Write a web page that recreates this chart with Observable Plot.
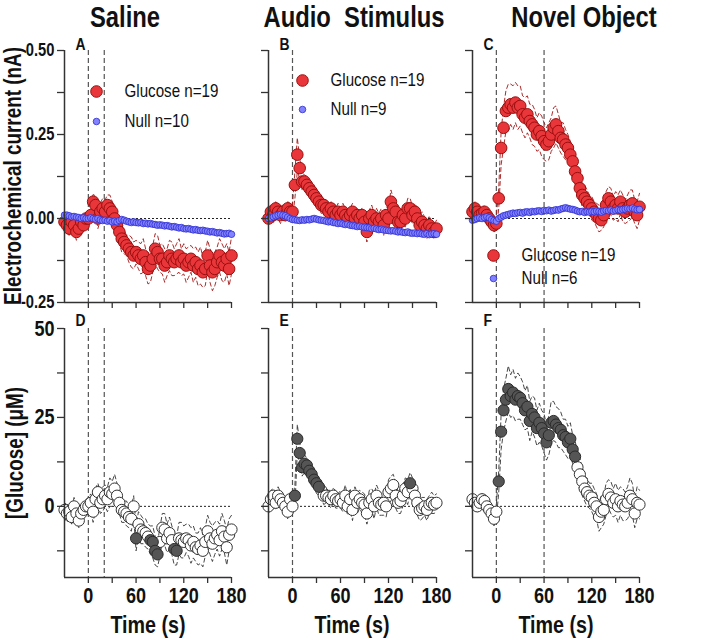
<!DOCTYPE html>
<html><head><meta charset="utf-8">
<script src="https://cdn.jsdelivr.net/npm/d3@7"></script>
<script src="https://cdn.jsdelivr.net/npm/@observablehq/plot@0.6"></script>
<style>
body{margin:0;background:#fff;}
#chart{position:relative;width:708px;height:641px;overflow:hidden;font-family:"Liberation Sans",Arial,sans-serif;color:#111;}
.lbl{position:absolute;font-weight:bold;white-space:nowrap;line-height:1;}
</style></head><body><div id="chart"></div>
<script>
// ---------- data ----------
const time = [-30,-27,-24,-21,-18,-15,-12,-9,-6,-3,0,3,6,9,12,15,18,21,24,27,30,33,36,39,42,45,48,51,54,57,60,63,66,69,72,75,78,81,84,87,90,93,96,99,102,105,108,111,114,117,120,123,126,129,132,135,138,141,144,147,150,153,156,159,162,165,168,171,174,177,180];

// Electrochemical current (nA)
const glucoseSaline = [-0.01,-0.02,-0.03,-0.01,-0.02,-0.04,-0.03,-0.01,-0.02,0.00,0.00,
 0.01,0.05,0.04,0.00,0.02,0.03,0.02,0.04,0.03,0.02,
 0.00,-0.02,-0.04,-0.06,-0.07,-0.08,-0.09,-0.10,-0.11,-0.10,
 -0.11,-0.12,-0.11,-0.13,-0.15,-0.14,-0.12,-0.09,-0.10,-0.12,
 -0.12,-0.14,-0.13,-0.11,-0.12,-0.13,-0.12,-0.11,-0.13,-0.12,
 -0.14,-0.13,-0.12,-0.14,-0.13,-0.15,-0.14,-0.16,-0.15,-0.11,
 -0.14,-0.16,-0.15,-0.13,-0.11,-0.13,-0.14,-0.12,-0.15,-0.11];
const semSaline = [0.02,0.025,0.02,0.015,0.02,0.025,0.02,0.02,0.015,0.02,0.02,
 0.02,0.025,0.02,0.03,0.025,0.03,0.035,0.03,0.04,0.03,
 0.035,0.03,0.035,0.04,0.035,0.03,0.04,0.045,0.04,0.035,
 0.04,0.045,0.05,0.04,0.045,0.05,0.04,0.045,0.05,0.04,
 0.045,0.05,0.04,0.045,0.05,0.04,0.045,0.05,0.04,0.045,
 0.05,0.045,0.04,0.05,0.045,0.05,0.055,0.045,0.05,0.045,
 0.05,0.055,0.05,0.045,0.05,0.055,0.05,0.045,0.05,0.055];
const nullSaline = [0.01,0.01,0.008,0.005,0.006,0.004,0.003,0.0,0.002,0.0,0.0,
 0.002,0.0,-0.002,0.0,-0.004,-0.006,-0.005,-0.008,-0.006,-0.01,
 -0.008,-0.01,-0.006,-0.003,-0.005,-0.008,-0.01,-0.012,-0.01,-0.012,
 -0.013,-0.012,-0.015,-0.014,-0.016,-0.015,-0.017,-0.018,-0.02,-0.019,
 -0.02,-0.022,-0.021,-0.023,-0.025,-0.024,-0.026,-0.028,-0.027,-0.03,
 -0.031,-0.03,-0.032,-0.034,-0.033,-0.035,-0.036,-0.035,-0.037,-0.038,
 -0.04,-0.039,-0.041,-0.043,-0.042,-0.044,-0.046,-0.045,-0.044,-0.047];

const glucoseAudio = [0.00,0.02,0.01,0.03,0.02,0.01,0.02,0.01,0.03,0.02,0.02,
 0.10,0.19,0.15,0.11,0.11,0.10,0.09,0.08,0.07,0.06,
 0.05,0.04,0.04,0.03,0.02,0.03,0.02,0.01,0.02,0.01,
 0.02,0.01,0.00,0.01,0.02,0.00,0.01,0.00,0.01,-0.01,
 -0.04,0.00,0.01,-0.01,0.00,-0.01,0.00,-0.02,0.01,0.00,
 0.05,0.03,0.02,-0.01,-0.01,0.01,0.00,0.03,0.03,0.01,
 0.02,0.00,-0.02,-0.01,-0.02,-0.03,-0.02,-0.03,-0.04,-0.03];
const semAudio = [0.02,0.02,0.025,0.02,0.02,0.025,0.02,0.02,0.02,0.025,0.02,
 0.04,0.05,0.03,0.025,0.02,0.025,0.02,0.025,0.02,0.02,
 0.02,0.025,0.02,0.025,0.02,0.02,0.025,0.02,0.025,0.02,
 0.025,0.02,0.025,0.02,0.025,0.03,0.02,0.025,0.02,0.025,
 0.03,0.025,0.03,0.025,0.03,0.025,0.03,0.03,0.025,0.03,
 0.035,0.03,0.025,0.03,0.025,0.03,0.025,0.03,0.03,0.025,
 0.025,0.03,0.025,0.03,0.025,0.03,0.025,0.025,0.02,0.025];
const nullAudio = [0.0,0.002,0.005,0.008,0.01,0.012,0.01,0.008,0.004,0.0,-0.003,
 -0.004,-0.005,-0.006,-0.004,-0.005,-0.003,-0.004,-0.002,0.0,-0.002,
 -0.004,-0.005,-0.006,-0.008,-0.01,-0.009,-0.012,-0.013,-0.015,-0.014,
 -0.016,-0.018,-0.017,-0.02,-0.021,-0.022,-0.024,-0.023,-0.025,-0.026,
 -0.027,-0.028,-0.03,-0.029,-0.031,-0.033,-0.032,-0.034,-0.035,-0.036,
 -0.037,-0.036,-0.038,-0.04,-0.039,-0.041,-0.042,-0.04,-0.043,-0.044,
 -0.043,-0.045,-0.044,-0.046,-0.047,-0.045,-0.048,-0.046,-0.045,-0.047];

const glucoseNovel = [0.02,0.03,0.02,0.01,0.015,0.02,0.01,0.0,-0.01,-0.02,-0.015,
 0.06,0.21,0.27,0.32,0.33,0.34,0.33,0.345,0.33,0.335,
 0.31,0.30,0.31,0.29,0.28,0.27,0.25,0.26,0.245,0.23,
 0.22,0.23,0.25,0.27,0.28,0.26,0.24,0.235,0.22,0.21,
 0.19,0.17,0.14,0.12,0.09,0.07,0.06,0.05,0.04,0.03,
 0.02,0.01,0.0,-0.005,0.01,0.04,0.06,0.05,0.03,0.04,
 0.03,0.05,0.03,0.02,0.03,0.04,0.045,0.02,0.01,0.035];
const semNovel = [0.02,0.02,0.015,0.02,0.015,0.02,0.015,0.02,0.015,0.02,0.02,
 0.03,0.05,0.06,0.06,0.07,0.06,0.065,0.06,0.065,0.06,
 0.055,0.06,0.055,0.05,0.06,0.055,0.05,0.055,0.06,0.055,
 0.05,0.055,0.05,0.06,0.055,0.05,0.045,0.05,0.045,0.04,
 0.04,0.035,0.04,0.035,0.03,0.035,0.04,0.035,0.03,0.035,
 0.03,0.035,0.04,0.03,0.035,0.04,0.035,0.04,0.035,0.04,
 0.04,0.035,0.04,0.035,0.04,0.045,0.04,0.035,0.04,0.04];
const nullNovel = [-0.005,-0.003,0.0,0.002,0.0,0.003,0.005,0.002,-0.003,-0.006,-0.008,
 0.0,0.004,0.008,0.01,0.012,0.014,0.016,0.015,0.017,0.018,
 0.016,0.019,0.02,0.018,0.021,0.02,0.022,0.023,0.021,0.024,
 0.023,0.025,0.022,0.024,0.026,0.025,0.028,0.03,0.032,0.03,
 0.028,0.027,0.025,0.022,0.02,0.021,0.018,0.02,0.019,0.021,
 0.02,0.022,0.021,0.019,0.022,0.024,0.023,0.025,0.022,0.024,
 0.026,0.025,0.027,0.028,0.03,0.029,0.031,0.028,0.026,0.027];

// [Glucose] (µM)
const concSaline = [-1,-2,-1.5,-3,0,-2,-4,-2,-1,0,0,
 1,-1.5,2,4,1,2,3,2,4,3.5,
 5,3,1,-1,-1.5,-2,-3,-3.5,0,-9,
 -5,-6.5,-7,-7.5,-8.5,-9.5,-10,-12.5,-13.5,-10,
 -6,-6.5,-9,-7.5,-9.5,-12,-12.5,-9,-9.5,-10,
 -9,-9.5,-11,-10,-11.5,-12,-11,-12.5,-10,-7,
 -9,-10.5,-9,-8,-9.5,-7,-8.5,-11.5,-8,-6.5];
const concSemSaline = [2,2.5,2,2,2.5,2,2,2.5,2,2,2.5,
 2.5,3,3,2.5,3,3.5,3,3.5,4,3.5,
 4,3.5,3,3.5,3,3.5,3,3.5,3,3.5,
 3.5,4,3.5,4,3.5,4,4.5,4,3.5,4,
 4,4.5,4,4.5,4,4.5,4,4.5,5,4.5,
 4,4.5,5,4.5,4,4.5,5,4.5,4,4.5,
 4.5,5,4.5,4,4.5,5,4.5,5,4.5,4];
const sigSaline = [60,78,81,84,87,108,111];

const concAudio = [0,2,3,1,3,2,1,0,-1.5,2,0,
 3,19,15,11,12,11.5,10,9,7.5,6.5,
 5.5,4.5,3,3,2.5,2,3,2,1.5,2,
 1,3,0,2,-1,3,1,2,1,0.5,
 -2,1,2,0,3,1,0.5,1,0,4,
 5,6,3,1,1.5,3,5,4,6.5,5,
 3,1,-1,-0.5,0,-1,0.5,1,0.5,1];
const concSemAudio = [2,2.5,2,2,2.5,2,2,2.5,2,2,2,
 3,4,3,2.5,2.5,2,2.5,2,2,2,
 2,2,2.5,2,2,2.5,2,2.5,2,2.5,
 2.5,3,2.5,3,3,2.5,3,2.5,3,3,
 3,3.5,3,3.5,3,3.5,3,3.5,3,3.5,
 3.5,3,3.5,3,3.5,3,3,3.5,3,3,
 3,3.5,3,3,2.5,3,2.5,3,2.5,2.5];
const sigAudio = [3,6,9,12,15,18,21,24,27,30,33,147];

const concNovel = [2,1,0,1,2,1.5,0,-1,-2,-3.5,-1.5,
 7,21,27,30,33,31,32,30,31,30.5,
 29,27,28,24,26,25,22,23.5,22,20.5,
 18,20,23.5,24,23,22,21.5,20,19.5,18,
 19,16,14,11,9,7,5,4,3,2.5,
 1,0,-3,-1.5,-1,2,3.5,2.5,1,2,
 0,1.5,0.5,0,1,3,2,-2,1,0.5];
const concSemNovel = [1.5,2,1.5,2,1.5,2,1.5,2,1.5,2,2,
 3,5,6,6,6.5,6,6.5,6,6.5,6,
 6,5.5,6,5.5,5,5.5,5,5.5,5,5.5,
 5,5.5,6,5.5,5,5.5,5,4.5,5,4.5,
 4.5,4,4.5,4,4.5,4,3.5,4,3.5,4,
 4,3.5,4,4.5,4,4.5,4,4.5,4,4.5,
 4.5,4,4.5,4,4.5,5,4.5,4,4.5,4];
const sigNovel = [3,6,9,12,15,18,21,24,27,30,33,36,39,42,45,48,51,54,57,60,63,66,69,72,75,78,81,84,87,90,93,96,99];

const eventSaline = [0, 20];
const eventAudio = [0];
const eventNovel = [0, 60];

const columnTitles = ["Saline", "Audio\u00a0\u00a0Stimulus", "Novel Object"];
const legendSaline = ["Glucose n=19", "Null n=10"];
const legendAudio = ["Glucose n=19", "Null n=9"];
const legendNovel = ["Glucose n=19", "Null n=6"];
const currentTicks = [-0.25, 0, 0.25, 0.5];
const currentMinor = [-0.125, 0.125, 0.375];
const concTicks = [0, 25, 50];
const concMinor = [-12.5, 12.5, 37.5];
const timeTicks = [0, 60, 120, 180];
const timeMinor = [30, 90, 150];

// ---------- layout / style ----------
const FONT = '"Liberation Sans",Arial,sans-serif';
const NARROW = 0.82; // emulate a narrow typeface
const chart = document.getElementById("chart");
const cols = [{x0:64,x1:231},{x0:268,x1:436},{x0:472,x1:639}];
const rowsL = [{y0:50,y1:302},{y0:328,y1:577}];
const AX = "#333";

function narrowTexts(svg){
  svg.querySelectorAll("text").forEach(t => {
    const tr = t.getAttribute("transform") || "";
    t.setAttribute("transform", `${tr} scale(${NARROW},1)`);
  });
}

function panel(cfg){
  const c = cols[cfg.col], r = rowsL[cfg.row];
  const ml = 70, mr = 20, mt = 30, mb = cfg.row === 0 ? 20 : 50;
  const w = ml + (c.x1 - c.x0) + mr, h = mt + (r.y1 - r.y0) + mb;
  const top = cfg.row === 0;
  const data = time.map((t, i) => ({t, v: cfg.values[i], s: cfg.sem[i], n: cfg.nulls ? cfg.nulls[i] : null,
    sig: cfg.sig ? cfg.sig.includes(t) : false}));
  const showY = cfg.col === 0;
  const marks = [
    Plot.ruleY([0], {stroke: "#222", strokeDasharray: "2,2", strokeWidth: 1}),
    Plot.ruleX(cfg.events, {stroke: "#555", strokeDasharray: "5,3", strokeWidth: 1.2}),
    Plot.line(data, {x: "t", y: d => d.v + d.s, stroke: top ? "#a31515" : "#333", strokeDasharray: "4,3", strokeWidth: 0.9}),
    Plot.line(data, {x: "t", y: d => d.v - d.s, stroke: top ? "#a31515" : "#333", strokeDasharray: "4,3", strokeWidth: 0.9}),
  ];
  if (top) {
    marks.push(Plot.dot(data, {x: "t", y: "v", r: 5.8, fill: "#e8363a", stroke: "#9a0f0f", strokeWidth: 1}));
    marks.push(Plot.dot(data, {x: "t", y: "n", r: 3.3, fill: "#8282ff", stroke: "#2d2dd0", strokeWidth: 0.8}));
    const L = cfg.legend;
    marks.push(Plot.dot([0], {frameAnchor: "top-left", dx: L.dx, dy: L.dy1, r: 5.8, fill: "#e8363a", stroke: "#9a0f0f", strokeWidth: 1}));
    marks.push(Plot.dot([0], {frameAnchor: "top-left", dx: L.dx, dy: L.dy2, r: 3.3, fill: "#8282ff", stroke: "#2d2dd0", strokeWidth: 0.8}));
    marks.push(Plot.text([L.labels[0]], {text: d => d, frameAnchor: "top-left", dx: L.dx + 28, dy: L.dy1, textAnchor: "start", lineAnchor: "middle", fontSize: 18.5, fill: "#111"}));
    marks.push(Plot.text([L.labels[1]], {text: d => d, frameAnchor: "top-left", dx: L.dx + 28, dy: L.dy2, textAnchor: "start", lineAnchor: "middle", fontSize: 18.5, fill: "#111"}));
  } else {
    marks.push(Plot.dot(data.filter(d => !d.sig), {x: "t", y: "v", r: 5.6, fill: "#fff", stroke: "#333", strokeWidth: 1}));
    marks.push(Plot.dot(data.filter(d => d.sig), {x: "t", y: "v", r: 5.6, fill: "#555", stroke: "#2a2a2a", strokeWidth: 1}));
  }
  // axes
  marks.push(Plot.ruleX([-30], {stroke: AX, strokeWidth: 1.5}));
  marks.push(Plot.ruleY([top ? -0.25 : -20], {stroke: AX, strokeWidth: 1.5}));
  marks.push(Plot.axisY(top ? currentTicks : concTicks, {tickSize: 7, tickPadding: 3, stroke: AX, strokeWidth: 1.3,
    tickFormat: showY ? (top ? (d => d.toFixed(2)) : (d => String(d))) : (() => ""),
    fontSize: top ? 18 : 22, fontWeight: "bold", fill: "#111", label: null}));
  marks.push(Plot.axisY(top ? currentMinor : concMinor, {tickSize: 7, stroke: AX, strokeWidth: 1.3, tickFormat: () => "", label: null}));
  marks.push(Plot.axisX(timeTicks, {tickSize: 6, tickPadding: 4, stroke: AX, strokeWidth: 1.3,
    tickFormat: top ? (() => "") : (d => String(d)), fontSize: 22, fontWeight: "bold", fill: "#111", label: null}));
  marks.push(Plot.axisX(timeMinor, {tickSize: 6, stroke: AX, strokeWidth: 1.3, tickFormat: () => "", label: null}));
  marks.push(Plot.text([cfg.letter], {text: d => d, frameAnchor: "top-left", dx: 11, dy: top ? -6 : -8, lineAnchor: "middle", fontSize: 17, fontWeight: "bold", fill: "#111"}));

  const svg = Plot.plot({
    width: w, height: h, marginLeft: ml, marginRight: mr, marginTop: mt, marginBottom: mb,
    x: {domain: [-30, 180]},
    y: {domain: top ? [-0.25, 0.5] : [-20, 50]},
    style: {fontFamily: FONT, background: "transparent", overflow: "visible", color: "#111"},
    marks
  });
  narrowTexts(svg);
  svg.style.position = "absolute";
  svg.style.left = (c.x0 - ml) + "px";
  svg.style.top = (r.y0 - mt) + "px";
  chart.appendChild(svg);
}

panel({col:0,row:0,letter:"A",values:glucoseSaline,sem:semSaline,nulls:nullSaline,events:eventSaline,
  legend:{labels:legendSaline,dx:32,dy1:41,dy2:71}});
panel({col:1,row:0,letter:"B",values:glucoseAudio,sem:semAudio,nulls:nullAudio,events:eventAudio,
  legend:{labels:legendAudio,dx:34,dy1:30,dy2:59}});
panel({col:2,row:0,letter:"C",values:glucoseNovel,sem:semNovel,nulls:nullNovel,events:eventNovel,
  legend:{labels:legendNovel,dx:21,dy1:205,dy2:228}});
panel({col:0,row:1,letter:"D",values:concSaline,sem:concSemSaline,sig:sigSaline,events:eventSaline});
panel({col:1,row:1,letter:"E",values:concAudio,sem:concSemAudio,sig:sigAudio,events:eventAudio});
panel({col:2,row:1,letter:"F",values:concNovel,sem:concSemNovel,sig:sigNovel,events:eventNovel});

// titles and axis labels
function label(text, x, y, size, rotate){
  const d = document.createElement("div");
  d.className = "lbl";
  d.textContent = text;
  d.style.fontSize = size + "px";
  d.style.left = x + "px";
  d.style.top = y + "px";
  d.style.transform = "translate(-50%,-50%)" + (rotate ? " rotate(-90deg)" : "") + ` scale(${NARROW},1)`;
  chart.appendChild(d);
}
const titleX = [125, 354, 584];
columnTitles.forEach((t, i) => label(t, titleX[i], 17, 29));
cols.forEach(c => label("Time (s)", (c.x0 + c.x1) / 2, 625, 24));
label("Electrochemical current (nA)", 13, 176, 23, true);
label("[Glucose] (\u03bcM)", 15, 453, 23, true);
</script>
</body></html>
